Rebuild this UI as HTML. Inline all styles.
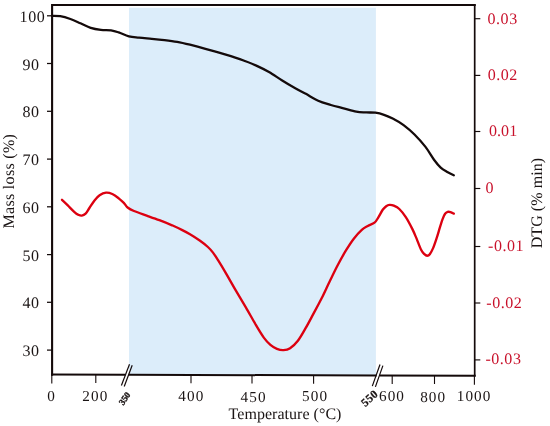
<!DOCTYPE html>
<html><head><meta charset="utf-8"><title>TG-DTG</title>
<style>
html,body{margin:0;padding:0;background:#fff;}
svg{display:block}
.t{font-family:"Liberation Serif","Times New Roman",serif;font-size:16px;fill:#1a1414;letter-spacing:0.55px;text-rendering:geometricPrecision}
.r{fill:#c8102a}
.b{font-size:15.2px;letter-spacing:1.1px}
.s{font-family:"Liberation Serif","Times New Roman",serif;font-size:9px;font-weight:bold;fill:#1a1414;stroke:#1a1414;stroke-width:0.35px;text-rendering:geometricPrecision}
.s2{font-family:"Liberation Serif","Times New Roman",serif;font-size:11.6px;font-weight:bold;fill:#1a1414;stroke:#1a1414;stroke-width:0.2px;text-rendering:geometricPrecision}
</style></head><body>
<svg width="550" height="426" viewBox="0 0 550 426">
<rect width="550" height="426" fill="#fff"/>
<path d="M129,7.7H375.9V375.44L129,374.80Z" fill="#dcedfa"/>
<path d="M52.1,374.6V5H474.7" fill="none" stroke="#140a0a" stroke-width="2.1" stroke-linejoin="miter" stroke-linecap="square"/>
<path d="M474.7,5V375.7" fill="none" stroke="#140a0a" stroke-width="1.7" stroke-linecap="square"/>
<path d="M51.1,374.60L125.4,374.79M128.6,374.80L376.6,375.44M379.8,375.45L475.7,375.70" fill="none" stroke="#140a0a" stroke-width="2" stroke-linecap="butt"/>
<line x1="47" x2="52.1" y1="15.8" y2="15.8" stroke="#140a0a" stroke-width="1.25"/>
<text x="19.6" y="22.0" class="t">100</text>
<line x1="47" x2="52.1" y1="63.5" y2="63.5" stroke="#140a0a" stroke-width="1.25"/>
<text x="22.4" y="69.5" class="t">90</text>
<line x1="47" x2="52.1" y1="111.3" y2="111.3" stroke="#140a0a" stroke-width="1.25"/>
<text x="22.4" y="117.3" class="t">80</text>
<line x1="47" x2="52.1" y1="159.1" y2="159.1" stroke="#140a0a" stroke-width="1.25"/>
<text x="22.4" y="165.1" class="t">70</text>
<line x1="47" x2="52.1" y1="206.8" y2="206.8" stroke="#140a0a" stroke-width="1.25"/>
<text x="22.4" y="212.8" class="t">60</text>
<line x1="47" x2="52.1" y1="254.6" y2="254.6" stroke="#140a0a" stroke-width="1.25"/>
<text x="22.4" y="260.6" class="t">50</text>
<line x1="47" x2="52.1" y1="302.3" y2="302.3" stroke="#140a0a" stroke-width="1.25"/>
<text x="22.4" y="308.3" class="t">40</text>
<line x1="47" x2="52.1" y1="350.1" y2="350.1" stroke="#140a0a" stroke-width="1.25"/>
<text x="22.4" y="356.1" class="t">30</text>
<line x1="474.7" x2="480.3" y1="18.7" y2="18.7" stroke="#140a0a" stroke-width="1.15"/>
<text x="487.5" y="23.7" class="t r">0.03</text>
<line x1="474.7" x2="480.3" y1="75.4" y2="75.4" stroke="#140a0a" stroke-width="1.15"/>
<text x="487.7" y="80.4" class="t r">0.02</text>
<line x1="474.7" x2="480.3" y1="131.5" y2="131.5" stroke="#140a0a" stroke-width="1.15"/>
<text x="488.9" y="136.0" class="t r" style="letter-spacing:0.1px">0.01</text>
<line x1="474.7" x2="480.3" y1="188.5" y2="188.5" stroke="#140a0a" stroke-width="1.15"/>
<text x="485.5" y="193.1" class="t r">0</text>
<line x1="474.7" x2="480.3" y1="246.5" y2="246.5" stroke="#140a0a" stroke-width="1.15"/>
<text x="488.0" y="251.2" class="t r">-0.01</text>
<line x1="474.7" x2="480.3" y1="303.0" y2="303.0" stroke="#140a0a" stroke-width="1.15"/>
<text x="486.3" y="308.0" class="t r">-0.02</text>
<line x1="474.7" x2="480.3" y1="359.9" y2="359.9" stroke="#140a0a" stroke-width="1.15"/>
<text x="485.4" y="364.2" class="t r">-0.03</text>
<line x1="51.8" x2="51.8" y1="374.60" y2="383.40" stroke="#140a0a" stroke-width="1.1"/>
<text x="51.5" y="400.5" text-anchor="middle" class="t b">0</text>
<line x1="95.8" x2="95.8" y1="374.71" y2="383.11" stroke="#140a0a" stroke-width="1.1"/>
<text x="95.3" y="400.5" text-anchor="middle" class="t b">200</text>
<line x1="191" x2="191" y1="374.96" y2="383.36" stroke="#140a0a" stroke-width="1.1"/>
<text x="191.4" y="401" text-anchor="middle" class="t b">400</text>
<line x1="252" x2="252" y1="375.12" y2="383.52" stroke="#140a0a" stroke-width="1.1"/>
<text x="253.6" y="401.8" text-anchor="middle" class="t b">450</text>
<line x1="313.6" x2="313.6" y1="375.28" y2="383.68" stroke="#140a0a" stroke-width="1.1"/>
<text x="315.1" y="401" text-anchor="middle" class="t b">500</text>
<line x1="392.2" x2="392.2" y1="375.49" y2="383.89" stroke="#140a0a" stroke-width="1.1"/>
<text x="392.0" y="401.2" text-anchor="middle" class="t b">600</text>
<line x1="434.5" x2="434.5" y1="375.60" y2="384.00" stroke="#140a0a" stroke-width="1.1"/>
<text x="433.2" y="401.6" text-anchor="middle" class="t b">800</text>
<line x1="474.4" x2="474.4" y1="375.70" y2="384.70" stroke="#140a0a" stroke-width="1.1"/>
<text x="474.1" y="400.8" text-anchor="middle" class="t b">1000</text>
<line x1="121.4" y1="385.5" x2="129.5" y2="364.2" stroke="#140a0a" stroke-width="1.2"/>
<line x1="124.2" y1="386.5" x2="132.2" y2="365.3" stroke="#140a0a" stroke-width="1.2"/>
<line x1="372.3" y1="386.1" x2="380.0" y2="364.5" stroke="#140a0a" stroke-width="1.2"/>
<line x1="375.4" y1="386.9" x2="382.9" y2="365.6" stroke="#140a0a" stroke-width="1.2"/>
<text transform="translate(124.6,398.5) rotate(-55)" text-anchor="middle" dy="3" class="s">350</text>
<text transform="translate(369.4,398.1) rotate(-42)" text-anchor="middle" dy="4" class="s2" style="letter-spacing:0.3px">550</text>
<text x="228.6" y="418.5" class="t" textLength="113.4" lengthAdjust="spacing">Temperature (°C)</text>
<text transform="translate(13.5,181) rotate(-90)" text-anchor="middle" class="t" textLength="95" lengthAdjust="spacing">Mass loss (%)</text>
<text transform="translate(542.2,202.8) rotate(-90)" text-anchor="middle" class="t" textLength="91" lengthAdjust="spacing">DTG (% min)</text>
<path d="M52.0,15.8C53.4,15.9 57.1,15.7 60.2,16.2C63.3,16.7 67.0,17.8 70.4,19.0C73.8,20.2 77.1,21.8 80.5,23.3C83.9,24.8 87.3,26.8 90.7,27.9C94.1,29.0 97.5,29.5 100.9,29.9C104.3,30.3 108.0,30.0 111.0,30.4C114.0,30.8 115.7,31.4 118.7,32.4C121.7,33.4 125.5,35.4 128.9,36.3C132.3,37.2 135.2,37.2 139.0,37.6C142.8,38.0 147.6,38.4 151.8,38.8C156.1,39.2 160.3,39.6 164.5,40.1C168.7,40.6 172.9,41.1 177.2,41.9C181.4,42.7 185.3,43.6 190.0,44.7C194.7,45.9 200.7,47.5 205.4,48.8C210.1,50.1 213.9,51.2 218.2,52.4C222.4,53.6 226.7,54.9 230.9,56.2C235.1,57.6 239.4,58.9 243.6,60.5C247.8,62.1 252.1,63.7 256.3,65.6C260.5,67.5 264.8,69.6 269.0,72.0C273.2,74.4 277.9,77.8 281.8,80.2C285.8,82.7 288.8,84.5 292.7,86.7C296.6,88.9 301.1,91.3 305.4,93.6C309.6,95.9 313.9,98.8 318.2,100.7C322.4,102.6 326.7,103.7 330.9,105.0C335.1,106.3 339.4,107.2 343.6,108.3C347.8,109.4 352.5,111.0 356.3,111.7C360.1,112.4 363.3,112.2 366.5,112.4C369.7,112.6 372.5,112.3 375.4,112.7C378.3,113.1 381.1,113.8 384.0,114.8C386.9,115.8 389.4,116.8 392.7,118.5C396.0,120.2 400.0,122.4 403.6,125.1C407.2,127.8 410.9,130.9 414.5,134.5C418.1,138.1 422.2,142.7 425.5,146.9C428.8,151.2 431.7,156.6 434.2,160.0C436.7,163.4 438.5,165.6 440.7,167.6C442.9,169.6 445.1,170.7 447.3,172.0C449.5,173.3 452.7,174.8 453.8,175.3" fill="none" stroke="#140a0a" stroke-width="2.3" stroke-linecap="round"/>
<path d="M62.0,199.8C63.0,200.7 65.8,203.4 67.8,205.4C69.8,207.4 72.5,210.3 74.2,211.8C75.9,213.3 76.7,214.0 78.0,214.6C79.3,215.2 80.5,215.8 81.8,215.6C83.1,215.4 84.3,214.9 85.6,213.6C86.9,212.3 87.9,210.2 89.4,208.0C90.9,205.8 92.8,202.5 94.5,200.4C96.2,198.3 97.7,196.6 99.6,195.3C101.5,194.0 103.9,192.9 106.0,192.7C108.1,192.5 110.2,193.1 112.3,194.0C114.4,194.9 116.8,196.8 118.7,198.3C120.6,199.8 122.3,201.4 123.8,202.9C125.3,204.4 125.9,206.2 127.6,207.5C129.3,208.8 130.8,209.7 134.0,211.0C137.2,212.3 142.5,214.1 146.7,215.6C150.9,217.1 155.2,218.6 159.4,220.2C163.6,221.8 168.3,223.7 172.1,225.3C175.9,227.0 179.3,228.6 182.3,230.1C185.3,231.6 187.1,232.5 190.0,234.2C192.9,235.9 196.7,238.4 199.7,240.5C202.7,242.6 205.7,245.0 207.9,247.0C210.1,249.0 211.3,250.4 213.0,252.6C214.7,254.8 216.0,256.9 218.2,260.4C220.4,263.9 223.1,268.3 226.0,273.4C228.9,278.4 232.6,285.1 235.9,290.7C239.2,296.3 242.4,301.5 245.7,307.1C249.0,312.7 252.6,319.4 255.6,324.5C258.6,329.6 261.3,334.2 263.8,337.6C266.3,341.0 268.2,343.0 270.4,344.9C272.6,346.8 274.7,347.9 276.9,348.8C279.1,349.7 281.3,350.2 283.5,350.1C285.7,350.0 287.7,349.8 290.1,348.2C292.5,346.6 295.3,344.2 297.9,340.8C300.5,337.4 303.2,332.4 305.9,327.7C308.6,323.0 311.2,317.9 313.9,312.9C316.6,307.9 319.2,303.0 321.9,297.7C324.6,292.4 327.2,286.4 329.9,281.0C332.5,275.6 335.1,270.1 337.8,265.0C340.5,259.9 343.1,255.1 345.8,250.7C348.5,246.3 351.1,242.2 353.8,238.7C356.5,235.2 359.5,232.0 361.8,229.9C364.1,227.8 365.7,227.1 367.8,225.9C369.9,224.7 372.7,224.2 374.5,222.7C376.3,221.2 377.1,219.3 378.5,217.1C379.9,214.9 381.6,211.3 382.9,209.5C384.2,207.7 385.1,207.0 386.2,206.2C387.3,205.4 388.2,205.0 389.5,204.9C390.8,204.8 392.2,205.0 393.8,205.7C395.4,206.4 397.3,207.1 399.3,209.0C401.3,210.9 403.6,213.8 405.8,217.1C408.0,220.4 410.6,225.5 412.4,229.1C414.2,232.7 415.2,235.4 416.7,238.9C418.1,242.4 419.8,247.2 421.1,249.8C422.4,252.4 423.4,253.2 424.4,254.2C425.4,255.2 426.3,255.7 427.2,255.7C428.1,255.7 428.8,255.5 429.8,254.2C430.8,252.9 432.0,250.6 433.1,248.1C434.2,245.6 435.3,242.2 436.4,238.9C437.5,235.6 438.6,231.7 439.6,228.4C440.6,225.1 441.6,221.7 442.5,219.3C443.4,216.9 444.2,215.0 445.1,213.8C446.0,212.6 446.8,212.2 447.7,211.9C448.6,211.6 449.5,211.8 450.5,212.1C451.5,212.4 453.2,213.3 453.8,213.6" fill="none" stroke="#dc0010" stroke-width="2.35" stroke-linecap="round"/>
</svg>
</body></html>
